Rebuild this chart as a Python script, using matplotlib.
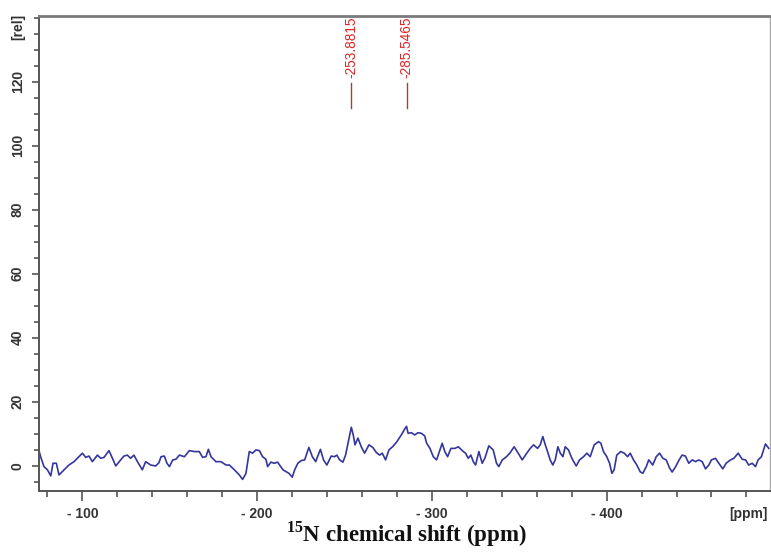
import matplotlib
matplotlib.use("Agg")
import matplotlib.pyplot as plt
from matplotlib.ticker import MultipleLocator, FixedLocator
import matplotlib.transforms as mtransforms

# 15N spectrum (chemical shift in ppm, relative intensity)
shift_ppm = [
    -75.0, -76.1, -78.0, -80.0, -81.9, -83.2, -85.1, -86.6, -89.5, -92.3,
    -95.2, -97.1, -100.0, -101.9, -103.8, -105.7, -108.6, -110.5, -112.4, -115.2,
    -117.2, -119.1, -121.9, -123.8, -125.7, -127.6, -129.5, -131.5, -134.3, -136.2,
    -139.1, -141.9, -143.8, -145.0, -146.9, -148.4, -149.8, -151.7, -153.5, -155.5,
    -158.4, -161.2, -164.1, -166.9, -168.8, -170.7, -172.1, -173.6, -176.4, -179.3,
    -182.2, -184.1, -187.0, -189.8, -191.7, -193.6, -195.5, -197.4, -199.3, -201.3,
    -203.1, -205.0, -206.0, -207.9, -209.8, -211.7, -214.8, -216.7, -218.2, -220.1,
    -221.5, -223.3, -225.3, -227.2, -229.6, -231.6, -233.5, -236.2, -238.0, -239.9,
    -242.4, -244.3, -245.6, -247.2, -249.1, -250.6, -253.9, -255.0, -256.0, -257.7,
    -259.6, -261.5, -264.0, -266.2, -268.2, -270.1, -271.6, -273.5, -275.4, -277.7,
    -280.0, -282.5, -284.4, -285.5, -286.4, -288.3, -290.2, -292.1, -294.0, -295.9,
    -297.0, -298.9, -300.8, -302.7, -305.9, -307.4, -309.0, -310.9, -313.2, -315.1,
    -316.6, -318.0, -319.3, -320.8, -322.3, -323.7, -325.0, -326.9, -328.8, -330.3,
    -332.6, -335.1, -337.0, -338.3, -340.3, -342.7, -344.6, -347.1, -349.4, -351.7,
    -354.3, -356.3, -358.2, -360.5, -362.0, -363.5, -364.9, -366.2, -367.7, -369.2,
    -370.6, -372.1, -373.5, -375.0, -376.3, -378.2, -380.1, -382.6, -384.5, -386.8,
    -388.7, -390.6, -392.9, -395.4, -396.7, -398.2, -400.1, -401.7, -403.0, -404.3,
    -405.8, -408.1, -410.1, -412.0, -413.5, -415.4, -417.3, -419.2, -420.7, -422.7,
    -424.1, -426.4, -428.4, -430.3, -432.2, -434.1, -436.0, -437.5, -439.5, -441.3,
    -443.2, -445.1, -447.0, -449.0, -450.9, -452.7, -454.7, -456.6, -458.5, -460.0,
    -462.3, -464.2, -466.5, -468.4, -470.9, -472.8, -475.3, -477.6, -479.5, -481.3,
    -483.3, -485.2, -486.7, -488.6, -490.9, -492.8,
]
intensity = [
    5.0, 2.8, -0.3, -1.3, -3.2, 0.75, 0.75, -2.9, -1.3, 0.2,
    1.25, 2.3, 3.9, 2.6, 3.0, 1.25, 3.3, 2.3, 2.6, 4.7,
    2.3, -0.1, 1.8, 3.0, 3.3, 2.3, 3.3, 1.25, -1.3, 1.25,
    0.2, -0.1, 0.9, 2.8, 3.0, 0.75, -0.3, 1.8, 2.0, 3.3,
    2.8, 4.7, 4.4, 4.4, 2.6, 2.8, 5.1, 2.8, 1.25, 1.25,
    0.2, 0.2, -1.3, -2.9, -4.3, -2.4, 4.4, 3.9, 4.9, 4.7,
    2.8, 2.0, -0.3, 1.1, 0.75, 1.1, -1.3, -1.9, -2.4, -3.6,
    -1.3, 0.75, 1.6, 1.8, 5.7, 2.8, 1.25, 5.1, 1.8, 0.2,
    3.0, 2.8, 3.3, 1.8, 1.1, 3.3, 12.0, 9.6, 6.5, 8.6,
    5.9, 3.9, 6.5, 5.7, 4.1, 3.3, 3.9, 1.8, 4.9, 6.0,
    7.5, 9.6, 11.4, 12.3, 10.1, 10.3, 9.6, 10.3, 10.1, 9.3,
    7.0, 5.4, 2.8, 1.8, 7.0, 4.4, 2.8, 5.4, 5.4, 5.9,
    5.1, 4.4, 3.9, 2.3, 3.3, 1.25, 0.2, 4.4, 0.75, 2.3,
    6.2, 4.9, 0.75, -0.3, 1.8, 2.8, 3.9, 5.9, 3.9, 1.8,
    3.9, 5.4, 6.5, 5.4, 6.5, 9.1, 6.5, 4.4, 1.8, 0.2,
    1.8, 5.9, 3.9, 2.8, 5.9, 4.9, 2.3, -0.1, 1.8, 2.8,
    3.9, 2.8, 6.5, 7.5, 7.0, 4.4, 2.8, 0.75, -2.4, -1.3,
    3.3, 4.4, 3.9, 2.8, 3.9, 1.8, 0.2, -1.9, -2.4, -0.3,
    1.8, 0.2, 2.8, 3.9, 2.3, 1.8, -0.7, -2.0, -0.3, 1.6,
    3.3, 3.0, 0.75, 1.8, 1.25, 1.8, 1.25, -1.0, 0.2, 1.8,
    2.3, 0.75, -1.0, 0.75, 1.8, 2.3, 3.9, 2.0, 1.8, 0.2,
    0.75, -0.3, 1.8, 2.8, 6.8, 5.4,
]

# peak picks
peak_shifts = [-253.8815, -285.5465]
peak_labels = ["-253.8815", "-285.5465"]

x_major = [-100, -200, -300, -400]
x_major_labels = ["- 100", "- 200", "- 300", "- 400"]
y_major = [0, 20, 40, 60, 80, 100, 120]
y_major_labels = ["0", "20", "40", "60", "80", "100", "120"]

plt.rcParams["mathtext.fontset"] = "custom"
plt.rcParams["mathtext.rm"] = "Liberation Serif:bold"
plt.rcParams["mathtext.bf"] = "Liberation Serif:bold"

fig = plt.figure(figsize=(7.71, 5.53), dpi=100)
ax = fig.add_axes([0.0502, 0.1128, 0.9485, 0.8582])

ax.plot(shift_ppm, intensity, color="#35359e", lw=1.2)

ax.set_xlim(-75, -493.5)
ax.set_ylim(-7.8, 140.5)

# axis frame
for side in ("left", "bottom"):
    ax.spines[side].set_color("#555555")
    ax.spines[side].set_linewidth(1.4)
ax.spines["top"].set_color("#7a7a7a")
ax.spines["top"].set_linewidth(2.0)
ax.spines["right"].set_color("#aaaaaa")
ax.spines["right"].set_linewidth(1.0)

ax.xaxis.set_major_locator(FixedLocator(x_major))
ax.set_xticklabels(x_major_labels)
ax.xaxis.set_minor_locator(MultipleLocator(20))
ax.yaxis.set_major_locator(FixedLocator(y_major))
ax.set_yticklabels(y_major_labels)
ax.yaxis.set_minor_locator(MultipleLocator(5))

label_font = dict(family="Liberation Sans", weight="bold", size=10)
for lab in ax.get_xticklabels() + ax.get_yticklabels():
    lab.set_fontfamily("Liberation Sans")
    lab.set_fontweight("bold")
    lab.set_fontsize(10)
    lab.set_color("#333333")

ax.tick_params(axis="x", which="major", direction="out", length=7.5, width=1.2,
               color="#555555", pad=4)
ax.tick_params(axis="x", which="minor", direction="out", length=4.5, width=1.2,
               color="#555555")
ax.tick_params(axis="y", which="major", direction="out", length=5, width=1.2,
               color="#555555", pad=5, labelrotation=90)
ax.tick_params(axis="y", which="minor", direction="out", length=3.8, width=1.2,
               color="#555555")
for lab in ax.get_yticklabels():
    lab.set_verticalalignment("center")

# unit labels in the spectrometer style
rel_tr = (mtransforms.blended_transform_factory(ax.transAxes, ax.transData)
          + mtransforms.ScaledTranslation(-10 / 72, 0, fig.dpi_scale_trans))
ax.text(0, 137.0, "[rel]", transform=rel_tr, rotation=90,
        ha="right", va="center", color="#333333", **label_font)
ppm_tr = (mtransforms.blended_transform_factory(ax.transData, ax.transAxes)
          + mtransforms.ScaledTranslation(0, -11.5 / 72, fig.dpi_scale_trans))
ax.text(-481, 0, "[ppm]", transform=ppm_tr,
        ha="center", va="top", color="#333333", **label_font)

# peak labels with their pick lines
top_tr = mtransforms.blended_transform_factory(ax.transData, ax.transAxes)
for ps, pl in zip(peak_shifts, peak_labels):
    ax.plot([ps, ps], [111.8, 119.6], color="#b03a3a", lw=1.0)
    ax.text(ps, 0.998, pl, transform=top_tr, rotation=90, ha="center", va="top",
            color="#e02424", fontsize=9.8, family="Liberation Sans")

fig.text(0.527, 0.034, r"$^{15}$N chemical shift (ppm)", ha="center", va="center",
         family="Liberation Serif", weight="bold", fontsize=16.5, color="#111111")

fig.savefig("out.png", dpi=100)
